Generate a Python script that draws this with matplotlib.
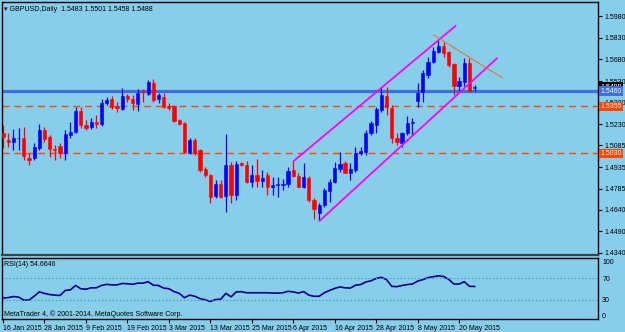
import numpy as np
import matplotlib
matplotlib.use("Agg")
import matplotlib.pyplot as plt

plt.rcParams['font.family'] = ['Liberation Sans', 'DejaVu Sans']

# GBPUSD daily bars, 16 Jan 2015 .. 25 May 2015
opens = [1.5173, 1.5119, 1.5105, 1.5133, 1.5133, 1.4997, 1.4996, 1.5065, 1.5191, 1.5145,
         1.5060, 1.5080, 1.5030, 1.5157, 1.5175, 1.5323, 1.5226, 1.5210, 1.5249, 1.5231,
         1.5376, 1.5403, 1.5359, 1.5336, 1.5426, 1.5406, 1.5371, 1.5461, 1.5440, 1.5518,
         1.5403, 1.5422, 1.5357, 1.5357, 1.5261, 1.5238, 1.5030, 1.5122, 1.5053, 1.4921,
         1.4880, 1.4734, 1.4817, 1.4734, 1.4949, 1.4742, 1.4960, 1.4949, 1.4833, 1.4880,
         1.4840, 1.4880, 1.4795, 1.4813, 1.4808, 1.4817, 1.4914, 1.4873, 1.4795, 1.4857,
         1.4707, 1.4619, 1.4672, 1.4769, 1.4833, 1.4919, 1.4965, 1.4896, 1.4914, 1.5030,
         1.5041, 1.5168, 1.5226, 1.5330, 1.5426, 1.5343, 1.5134, 1.5103, 1.5168, 1.5238,
         1.5394, 1.5456, 1.5572, 1.5664, 1.5733, 1.5772, 1.5733, 1.5648, 1.5496, 1.5526,
         1.5657, 1.5483]
highs = [1.5226, 1.5171, 1.5195, 1.5202, 1.5212, 1.5029, 1.5098, 1.5236, 1.5214, 1.5157,
         1.5087, 1.5098, 1.5191, 1.5249, 1.5352, 1.5348, 1.5261, 1.5272, 1.5295, 1.5403,
         1.5417, 1.5426, 1.5387, 1.5480, 1.5440, 1.5433, 1.5473, 1.5473, 1.5537, 1.5546,
         1.5445, 1.5445, 1.5375, 1.5364, 1.5265, 1.5249, 1.5134, 1.5134, 1.5058, 1.4937,
         1.4887, 1.4845, 1.4845, 1.5163, 1.4972, 1.4979, 1.4972, 1.4979, 1.4949, 1.4988,
         1.4914, 1.4903, 1.4864, 1.4864, 1.4850, 1.4937, 1.4979, 1.4896, 1.4965, 1.4873,
         1.4718, 1.4684, 1.4788, 1.4850, 1.4972, 1.5041, 1.4979, 1.4965, 1.5071, 1.5071,
         1.5191, 1.5256, 1.5352, 1.5485, 1.5487, 1.5364, 1.5168, 1.5179, 1.5288, 1.5272,
         1.5518, 1.5606, 1.5694, 1.5763, 1.5814, 1.5802, 1.5740, 1.5657, 1.5560, 1.5687,
         1.5687, 1.5501]
lows = [1.5067, 1.5074, 1.5050, 1.5053, 1.4984, 1.4949, 1.4984, 1.5053, 1.5110, 1.5006,
        1.4984, 1.4995, 1.4984, 1.5134, 1.5168, 1.5203, 1.5191, 1.5198, 1.5203, 1.5221,
        1.5364, 1.5334, 1.5318, 1.5330, 1.5387, 1.5330, 1.5323, 1.5387, 1.5433, 1.5387,
        1.5376, 1.5341, 1.5330, 1.5249, 1.5224, 1.5030, 1.5025, 1.5018, 1.4903, 1.4868,
        1.4688, 1.4719, 1.4719, 1.4626, 1.4684, 1.4707, 1.4942, 1.4822, 1.4799, 1.4799,
        1.4799, 1.4741, 1.4741, 1.4730, 1.4776, 1.4799, 1.4864, 1.4795, 1.4788, 1.4693,
        1.4573, 1.4568, 1.4660, 1.4695, 1.4822, 1.4903, 1.4891, 1.4845, 1.4903, 1.5018,
        1.5018, 1.5157, 1.5168, 1.5316, 1.5295, 1.5103, 1.5087, 1.5076, 1.5157, 1.5157,
        1.5350, 1.5387, 1.5549, 1.5653, 1.5722, 1.5694, 1.5629, 1.5433, 1.5463, 1.5496,
        1.5461, 1.5458]
closes = [1.5143, 1.5105, 1.5136, 1.5136, 1.5008, 1.4986, 1.5072, 1.5191, 1.5129, 1.5058,
          1.5054, 1.5030, 1.5163, 1.5179, 1.5325, 1.5226, 1.5207, 1.5247, 1.5231, 1.5380,
          1.5399, 1.5352, 1.5341, 1.5428, 1.5403, 1.5376, 1.5449, 1.5454, 1.5525, 1.5399,
          1.5433, 1.5352, 1.5343, 1.5256, 1.5231, 1.5041, 1.5122, 1.5030, 1.4914, 1.4880,
          1.4730, 1.4817, 1.4730, 1.4949, 1.4742, 1.4956, 1.4947, 1.4833, 1.4880, 1.4840,
          1.4861, 1.4799, 1.4811, 1.4815, 1.4815, 1.4909, 1.4873, 1.4799, 1.4864, 1.4707,
          1.4642, 1.4672, 1.4776, 1.4833, 1.4926, 1.4956, 1.4896, 1.4921, 1.5030, 1.5046,
          1.5172, 1.5238, 1.5334, 1.5430, 1.5350, 1.5134, 1.5110, 1.5172, 1.5238, 1.5249,
          1.5449, 1.5584, 1.5664, 1.5740, 1.5772, 1.5722, 1.5641, 1.5496, 1.5530, 1.5657,
          1.5463, 1.5488]
rsi = [33.2, 34, 36, 35, 29.5, 29.5, 36.5, 44.6, 41.9, 39.7,
       38.6, 38.1, 47.3, 48.4, 56.5, 50.5, 49.5, 52.2, 52.2, 56.5,
       58.6, 57.6, 57.6, 60.3, 59.7, 58.6, 60.8, 60.8, 63.5, 57.0,
       56.5, 51.6, 50.5, 45.1, 41.9, 33.8, 38.6, 36.5, 32.2, 30.0,
       26.8, 30.5, 31.1, 41.9, 35.4, 44.6, 45.0, 43.0, 43.0, 43.0,
       43.0, 43.0, 42.4, 42.4, 43.0, 45.7, 44.6, 42.4, 45.1, 38.6,
       36.5, 36.5, 43.0, 47.3, 51.1, 53.8, 52.2, 51.6, 57.0, 58.1,
       63.0, 65.1, 69.5, 71.6, 67.3, 54.9, 54.3, 56.5, 58.1, 59.2,
       64.6, 67.3, 71.1, 72.7, 74.3, 73.2, 67.8, 59.2, 59.2, 63.5,
       54.9, 54.6646]

date_labels = ["16 Jan 2015", "28 Jan 2015", "9 Feb 2015", "19 Feb 2015", "3 Mar 2015",
               "13 Mar 2015", "25 Mar 2015", "6 Apr 2015", "16 Apr 2015", "28 Apr 2015",
               "8 May 2015", "20 May 2015"]
date_step = 8
price_ticks = [1.5980, 1.5830, 1.5680, 1.5530, 1.5380, 1.5230, 1.5085, 1.4935,
               1.4785, 1.4640, 1.4490, 1.4340]
rsi_ticks = [100, 70, 30, 0]

support_level = 1.5460
dashed_levels = [1.5355, 1.5030]
bid = 1.5488

# trend lines: (bar index, price)
upper_x, upper_y = [56.1, 87.3], [1.4977, 1.5911]
lower_x, lower_y = [61.1, 95.3], [1.4563, 1.5687]
resist_x, resist_y = [83.1, 96.3], [1.5849, 1.5553]

BG = '#87CEEB'
BULL = '#0000FF'
BEAR = '#FF0000'
ORANGE = '#FF4500'

fig = plt.figure(figsize=(6.25, 3.32), dpi=100, facecolor=BG)
ax = fig.add_axes([2/625, 1-255/332, 596/625, 253/332], facecolor=BG)
ax2 = fig.add_axes([2/625, 1-319/332, 596/625, 61/332], facecolor=BG)

o = np.array(opens); h = np.array(highs); l = np.array(lows); c = np.array(closes)
x = np.arange(len(o))
up = c >= o
cols = np.where(up, BULL, BEAR)

ax.axhline(support_level, color='#3f6ee0', lw=2.3, zorder=1)
for lv in dashed_levels:
    ax.axhline(lv, color=ORANGE, lw=1, ls=(0, (5, 3.5)), zorder=1)

ax.vlines(x, l, h, colors=cols, lw=0.9, zorder=2)
body_lo = np.minimum(o, c)
body_h = np.maximum(np.abs(c - o), 0.00015)
ax.bar(x, body_h, bottom=body_lo, width=0.62, color=cols, edgecolor=cols, lw=0.4, zorder=3)

ax.plot(upper_x, upper_y, color='#FF00FF', lw=1.3, zorder=4)
ax.plot(lower_x, lower_y, color='#FF00FF', lw=1.3, zorder=4)
ax.plot(resist_x, resist_y, color='#E8762C', lw=0.8, zorder=4)

ax.set_xlim(-0.2, 114.8)
ax.set_ylim(1.4326, 1.6077)
ax.yaxis.tick_right()
ax.set_yticks(price_ticks)
ax.set_yticklabels([f"{v:.4f}" for v in price_ticks])
ax.tick_params(axis='y', length=3, width=0.8, labelsize=5, pad=1.5, colors='black')
ax.set_xticks([])
for s in ax.spines.values():
    s.set_color('black'); s.set_linewidth(1)
ax.spines['bottom'].set_color('#404040'); ax.spines['bottom'].set_linewidth(1.6)

ytr = ax.get_yaxis_transform()
box = dict(boxstyle='square,pad=0.18', lw=0)
ax.text(1.004, bid, f"{bid:.4f}", transform=ytr, ha='left', va='center', fontsize=5,
        color='white', bbox=dict(box, fc='black'), clip_on=False, zorder=6)
ax.text(1.004, support_level, f"{support_level:.4f}", transform=ytr, ha='left', va='center',
        fontsize=5, color='white', bbox=dict(box, fc='#3f6ee0'), clip_on=False, zorder=7)
for lv in dashed_levels:
    ax.text(1.004, lv, f"{lv:.4f}", transform=ytr, ha='left', va='center', fontsize=5,
            color='white', bbox=dict(box, fc=ORANGE), clip_on=False, zorder=7)

ax.text(0.004, 0.985, "\u25be GBPUSD,Daily  " + " ".join(f"{v:.4f}" for v in
        (opens[-1], highs[-1], lows[-1], closes[-1])),
        transform=ax.transAxes, ha='left', va='top', fontsize=5)

# RSI pane
ax2.plot(x, rsi, color='#00008B', lw=1.2)
for lv in (70, 30):
    ax2.axhline(lv, color='#3a9ab0', lw=0.8, ls=(0, (1.2, 2)))
ax2.set_xlim(-0.2, 114.8)
ax2.set_ylim(-5.6, 107.4)
ax2.yaxis.tick_right()
ax2.set_yticks(rsi_ticks)
ax2.set_yticklabels([str(v) for v in rsi_ticks])
ax2.tick_params(axis='y', length=0, labelsize=5, pad=3)
ax2.set_xticks(np.arange(len(date_labels)) * date_step)
ax2.set_xticklabels(date_labels)
ax2.tick_params(axis='x', length=3, width=0.8, labelsize=5, pad=1)
for lbl in ax2.get_xticklabels():
    lbl.set_ha('left')
for s in ax2.spines.values():
    s.set_color('black'); s.set_linewidth(1)
ax2.text(0.004, 0.9, f"RSI(14) {rsi[-1]:.4f}",
         transform=ax2.transAxes, ha='left', va='center', fontsize=5)
ax2.text(0.004, 0.08, "MetaTrader 4, \u00a9 2001-2014, MetaQuotes Software Corp.",
         transform=ax2.transAxes, ha='left', va='center', fontsize=5)

fig.savefig("out.png", dpi=100, facecolor=BG)
